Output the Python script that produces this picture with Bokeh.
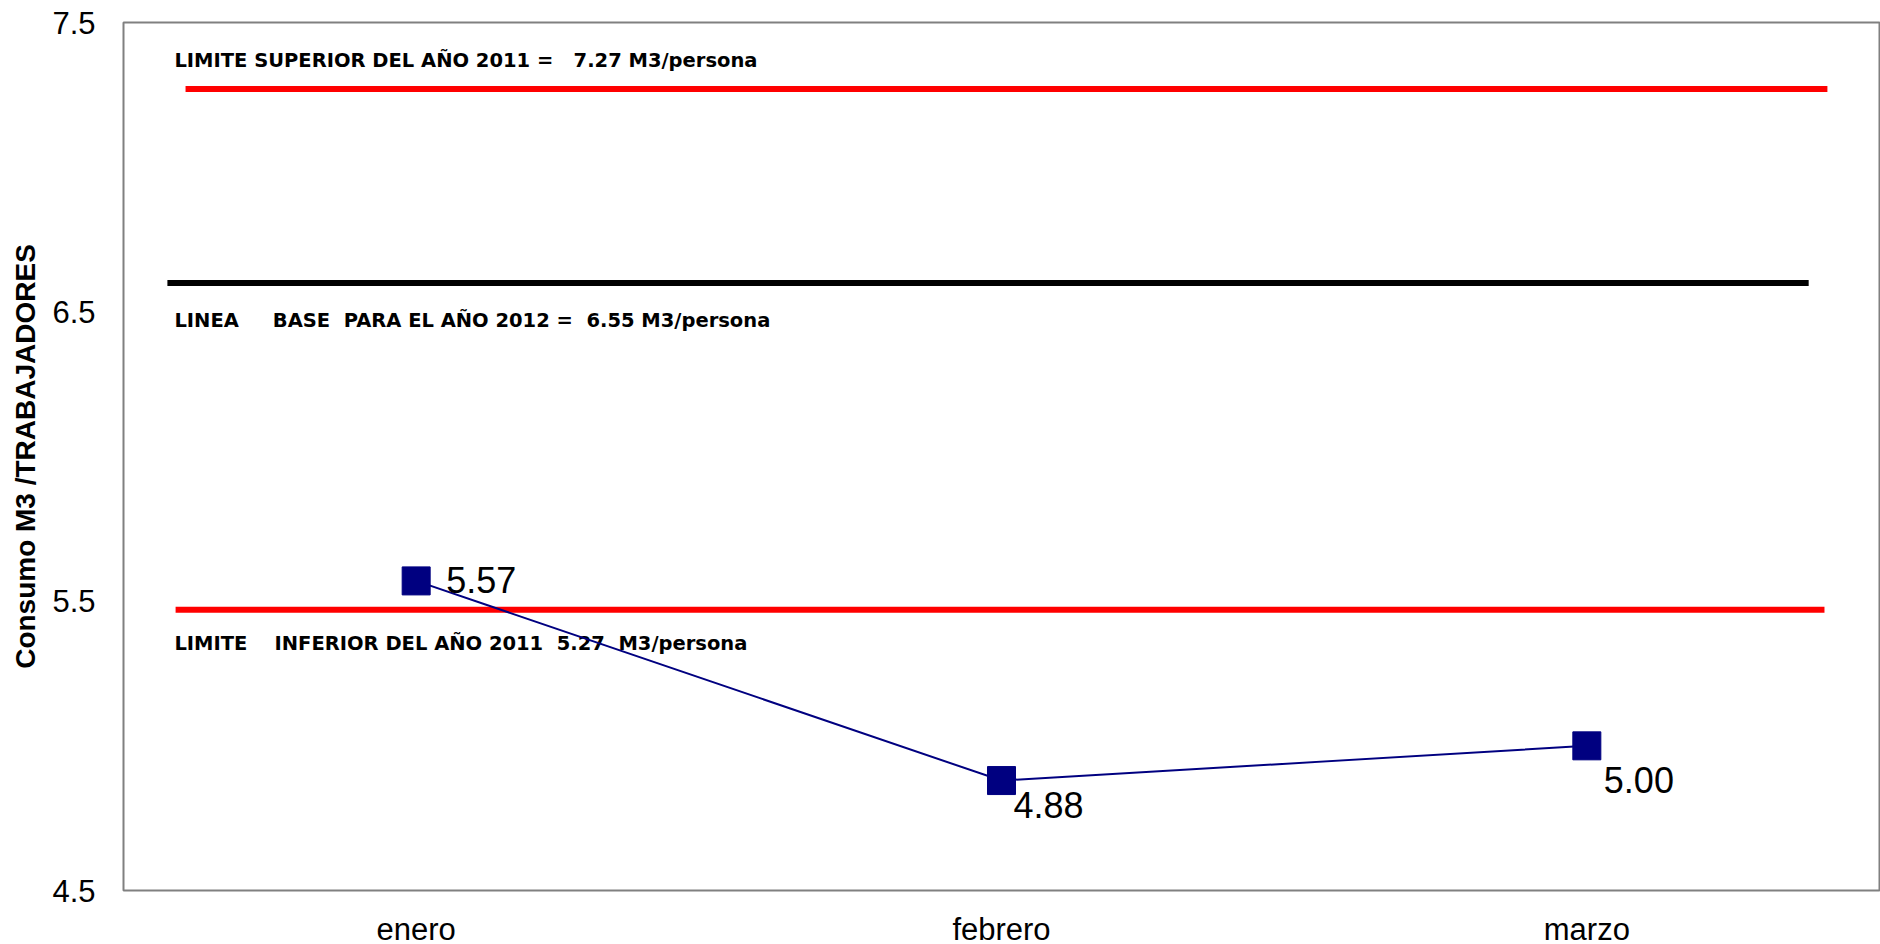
from bokeh.plotting import figure
from bokeh.models import FactorRange, Range1d, FixedTicker
from bokeh.embed import file_html
from bokeh.resources import INLINE
from bokeh.core.properties import value

# ---- data ----
months = ["enero", "febrero", "marzo"]
consumo = [5.57, 4.88, 5.00]
consumo_labels = ["5.57", "4.88", "5.00"]

limit_levels = [7.27, 6.60, 5.47]
limit_texts = [
    "LIMITE SUPERIOR DEL AÑO 2011 =   7.27 M3/persona",
    "LINEA     BASE  PARA EL AÑO 2012 =  6.55 M3/persona",
    "LIMITE    INFERIOR DEL AÑO 2011  5.27  M3/persona",
]
limit_colors = ["#ff0000", "#000000", "#ff0000"]

y_ticks = [4.5, 5.5, 6.5, 7.5]
y_title = "Consumo M3 /TRABAJADORES"

# ---- layout constants (screen styling) ----
seg_x0 = [0.106, 0.075, 0.089]
seg_x1 = [2.911, 2.879, 2.906]
text_x = [0.087, 0.087, 0.087]
text_dy = [-29, 38, 34]
lab_dx = [30, 12, 17]
lab_dy = [-1, 24, 34]

p = figure(
    x_range=FactorRange(factors=months, range_padding=0),
    y_range=Range1d(4.5, 7.5),
    frame_width=1756, frame_height=868,
    min_border_left=123, min_border_top=22, min_border_right=1, min_border_bottom=54,
    output_backend="svg", toolbar_location=None,
    background_fill_color="white", border_fill_color="white",
)

p.outline_line_color = "#808080"
p.outline_line_width = 2
p.xgrid.grid_line_color = None
p.ygrid.grid_line_color = None

p.yaxis.ticker = FixedTicker(ticks=y_ticks)
p.yaxis.axis_line_color = None
p.yaxis.major_tick_out = 0
p.yaxis.major_tick_in = 0
p.yaxis.minor_tick_out = 0
p.yaxis.minor_tick_in = 0
p.yaxis.major_label_standoff = 28
p.yaxis.major_label_text_font = "Liberation Sans"
p.yaxis.major_label_text_font_size = "31px"
p.yaxis.major_label_text_color = "black"
p.yaxis.axis_label = y_title
p.yaxis.axis_label_text_font = "Liberation Sans"
p.yaxis.axis_label_text_font_style = "bold"
p.yaxis.axis_label_text_font_size = "28px"
p.yaxis.axis_label_text_color = "black"
p.yaxis.axis_label_standoff = 8

p.xaxis.axis_line_color = None
p.xaxis.major_tick_out = 0
p.xaxis.major_tick_in = 0
p.xaxis.major_label_standoff = 21
p.xaxis.major_label_text_font = "Liberation Sans"
p.xaxis.major_label_text_font_size = "31px"
p.xaxis.major_label_text_color = "black"

# limit / base lines
p.segment(x0=seg_x0, y0=limit_levels, x1=seg_x1, y1=limit_levels,
          line_color=limit_colors, line_width=6)
p.text(x=text_x, y=limit_levels, text=[t.replace(" ", "\u00a0") for t in limit_texts],
       y_offset=text_dy, text_font=value("DejaVu Sans"), text_font_style="bold",
       text_font_size="19.5px", text_color="black", text_baseline="alphabetic",
       text_align="left")

# series
p.line(months, consumo, line_color="#000080", line_width=2)
p.scatter(months, consumo, marker="square", size=28, fill_color="#000080",
          line_color="#000080")
p.text(x=months, y=consumo, text=consumo_labels, x_offset=lab_dx, y_offset=lab_dy,
       text_font=value("Liberation Sans"), text_font_size="36px", text_color="black",
       text_baseline="alphabetic", text_align="left")

open("out.html", "w").write(file_html(p, INLINE))
